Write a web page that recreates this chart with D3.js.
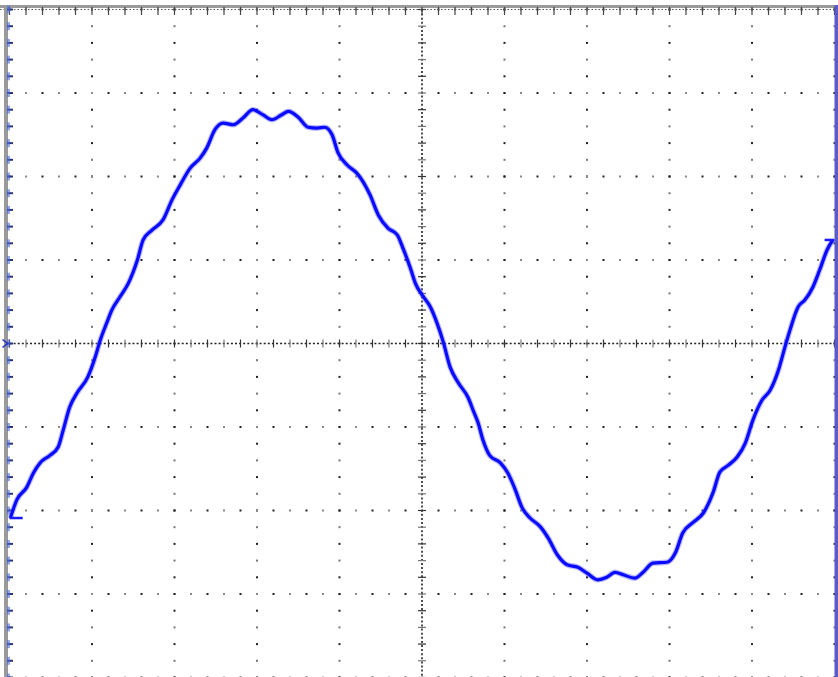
<!DOCTYPE html>
<html>
<head>
<meta charset="utf-8">
<script src="https://cdn.jsdelivr.net/npm/d3@7"></script>
<style>
html,body{margin:0;padding:0;background:#fff;}
svg{display:block;}
</style>
</head>
<body>
<svg id="chart" width="838" height="677"></svg>
<script>
// Time in divisions (0..10) and voltage in divisions (-4..4)
const timeDiv = [0.01,0.09,0.21,0.29,0.37,0.49,0.59,0.65,0.73,0.82,0.95,1.04,1.10,1.18,1.24,1.34,1.44,1.55,1.62,1.73,1.86,1.97,2.07,2.19,2.31,2.39,2.49,2.59,2.71,2.83,2.95,3.07,3.18,3.30,3.38,3.50,3.62,3.73,3.82,3.91,3.98,4.09,4.21,4.29,4.37,4.47,4.59,4.70,4.77,4.86,4.92,5.01,5.10,5.18,5.26,5.34,5.44,5.56,5.62,5.68,5.74,5.82,5.95,6.04,6.13,6.21,6.31,6.43,6.53,6.64,6.76,6.89,7.00,7.13,7.24,7.34,7.44,7.58,7.68,7.80,7.97,8.07,8.16,8.29,8.41,8.53,8.61,8.71,8.82,8.92,9.01,9.12,9.22,9.32,9.40,9.46,9.56,9.64,9.74,9.82,9.91,9.98];
const voltDiv = [-2.09,-1.87,-1.72,-1.55,-1.43,-1.34,-1.24,-1.04,-0.76,-0.59,-0.40,-0.16,0.04,0.25,0.40,0.56,0.72,1.00,1.24,1.36,1.48,1.72,1.90,2.10,2.22,2.34,2.56,2.64,2.62,2.70,2.80,2.74,2.68,2.74,2.78,2.71,2.59,2.58,2.59,2.50,2.29,2.14,2.04,1.93,1.78,1.54,1.38,1.30,1.14,0.90,0.72,0.57,0.44,0.25,0.01,-0.28,-0.47,-0.65,-0.80,-0.95,-1.16,-1.34,-1.43,-1.55,-1.75,-1.96,-2.09,-2.19,-2.33,-2.53,-2.65,-2.68,-2.75,-2.83,-2.80,-2.74,-2.77,-2.81,-2.74,-2.63,-2.62,-2.51,-2.27,-2.14,-2.03,-1.78,-1.54,-1.46,-1.36,-1.19,-0.92,-0.68,-0.56,-0.32,-0.04,0.16,0.44,0.52,0.68,0.88,1.12,1.24];

// Graticule divisions
const xDivisions = [0,1,2,3,4,5,6,7,8,9,10];
const yDivisions = [-4,-3,-2,-1,0,1,2,3,4];
const subDivisions = 5;

const svg = d3.select("#chart");
const x = d3.scaleLinear().domain([0,10]).range([9.5,834.5]);
const y = d3.scaleLinear().domain([-4,4]).range([677.5,9.5]);

const g = svg.append("g");

const xSubs = d3.range(0, 10*subDivisions+1).map(i => i/subDivisions);
const ySubs = d3.range(-4*subDivisions, 4*subDivisions+1).map(i => i/subDivisions);

// dotted grid: vertical lines
xDivisions.filter(d => d !== 5 && d !== 0).forEach(d => {
  g.selectAll(null).data(ySubs).enter().append("rect")
    .attr("x", x(d)-1).attr("y", v => y(v)-1)
    .attr("width", 2).attr("height", 2)
    .attr("fill", (v,i) => i%2 ? "#777" : "#222");
});
// dotted grid: horizontal lines
yDivisions.filter(d => d !== 0).forEach(d => {
  g.selectAll(null).data(xSubs).enter().append("rect")
    .attr("x", v => x(v)-1).attr("y", y(d)-1)
    .attr("width", 2).attr("height", 2)
    .attr("fill", (v,i) => i%2 ? "#888" : "#222");
});

// center axes
g.append("line").attr("x1", x(0)).attr("x2", x(10)).attr("y1", y(0)).attr("y2", y(0))
  .attr("stroke", "#222").attr("stroke-width", 1.6).attr("stroke-dasharray", "2,2.1");
g.append("line").attr("x1", x(5)).attr("x2", x(5)).attr("y1", y(4)).attr("y2", y(-4))
  .attr("stroke", "#222").attr("stroke-width", 1.6).attr("stroke-dasharray", "2,2.1");
g.selectAll(null).data(xSubs).enter().append("line")
  .attr("x1", v => x(v)).attr("x2", v => x(v))
  .attr("y1", y(0)-4).attr("y2", y(0)+4)
  .attr("stroke", (v,i) => i%2 ? "#777" : "#333").attr("stroke-width", 1.2);
g.selectAll(null).data(ySubs).enter().append("line")
  .attr("y1", v => y(v)).attr("y2", v => y(v))
  .attr("x1", x(5)-4).attr("x2", x(5)+4)
  .attr("stroke", (v,i) => i%2 ? "#777" : "#333").attr("stroke-width", 1.2);

// top border with ticks
g.append("rect").attr("x", 0).attr("y", 5).attr("width", 838).attr("height", 3).attr("fill", "#9a9a9a");
g.selectAll(null).data(xSubs).enter().append("line")
  .attr("x1", v => x(v)).attr("x2", v => x(v))
  .attr("y1", 7).attr("y2", 15)
  .attr("stroke", "#444").attr("stroke-width", 1.2);
g.append("line").attr("x1", 0).attr("x2", 838).attr("y1", 9.5).attr("y2", 9.5)
  .attr("stroke", "#555").attr("stroke-width", 1).attr("stroke-dasharray", "1.5,2");

// left border with ticks
g.append("rect").attr("x", 4).attr("y", 5).attr("width", 4).attr("height", 672).attr("fill", "#9a9a9a");
g.selectAll(null).data(ySubs).enter().append("line")
  .attr("y1", v => y(v)).attr("y2", v => y(v))
  .attr("x1", 7).attr("x2", 13)
  .attr("stroke", "#2a3580").attr("stroke-width", 2);
g.selectAll(null).data(ySubs).enter().append("rect")
  .attr("x", 7).attr("y", v => y(v)-4).attr("width", 3).attr("height", 8)
  .attr("fill", "#4d6de0").attr("opacity", 0.6);

// right edge bar
g.append("rect").attr("x", 834.5).attr("y", 5).attr("width", 4).attr("height", 672).attr("fill", "#5a5ac8");

// trace
const pts = timeDiv.map((t,i) => [t, voltDiv[i]]);
const line = d3.line().x(d => x(d[0])).y(d => y(d[1])).curve(d3.curveMonotoneX);
g.append("path").datum(pts).attr("d", line)
  .attr("fill", "none").attr("stroke", "#7070ff").attr("stroke-width", 5.5)
  .attr("stroke-opacity", 0.5).attr("stroke-linejoin", "round");
g.append("path").datum(pts).attr("d", line)
  .attr("fill", "none").attr("stroke", "#0a0aff").attr("stroke-width", 3.2)
  .attr("stroke-linejoin", "round").attr("stroke-linecap", "butt");

// channel markers
g.append("path")
  .attr("d", `M${x(0)-7},${y(0)-4} L${x(0)-2},${y(0)} L${x(0)-7},${y(0)+4}`)
  .attr("fill", "none").attr("stroke", "#2030c0").attr("stroke-width", 1.5);
g.append("line").attr("x1", x(0)).attr("x2", x(0.16)).attr("y1", y(voltDiv[0])).attr("y2", y(voltDiv[0]))
  .attr("stroke", "#1a1aff").attr("stroke-width", 2.5);
g.append("line").attr("x1", x(9.88)).attr("x2", x(10)).attr("y1", y(voltDiv[voltDiv.length-1])).attr("y2", y(voltDiv[voltDiv.length-1]))
  .attr("stroke", "#1a1aff").attr("stroke-width", 2.5);
</script>
</body>
</html>
